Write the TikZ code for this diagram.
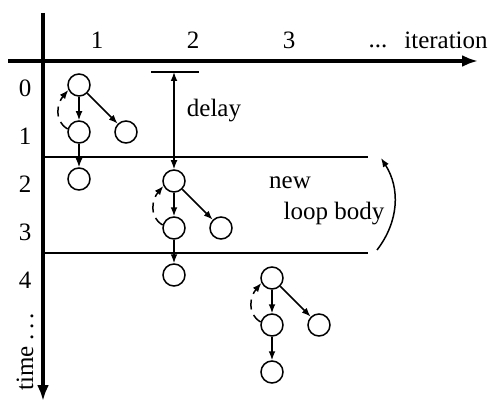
\documentclass[tikz,border=0pt]{standalone}
\usepackage{fontspec}
\setmainfont{Liberation Serif}
\usepackage{tikz}
\usetikzlibrary{arrows.meta}

\begin{document}
\begin{tikzpicture}[x=0.5pt, y=-0.5pt, >={Latex[length=4.5pt,width=3.4pt]}, node distance = 23.5pt,
                    op/.style = {circle, draw, line width=0.75pt, minimum size=11pt, inner sep=0pt},
                    lbl/.style = {font=\fontsize{12.5}{15}\selectfont, inner sep=1pt}]
                        \useasboundingbox (0,0) rectangle (490,405);

                        % axes
                        \coordinate (xs) at (8,61);
                        \coordinate (xe) at (478,61);
                        \coordinate (ys) at (43,13);
                        \coordinate (ye) at (43,401);
                        \draw[-{Latex[length=8pt,width=6pt]}, line width=1.8pt] (xs) -- (xe);
                        \draw[-{Latex[length=8pt,width=6pt]}, line width=1.8pt] (ys) -- (ye);

                        \node (c1) [lbl] at (97,40) {1};
                        \node (c2) [lbl] at (193,40) {2};
                        \node (c3) [lbl] at (289,40) {3};
                        \node (cd) [lbl, anchor=base] at (378,48) {.{}.{}.};
                        \node (it) [lbl] at (446,40) {iteration};

                        \node (r0) [lbl] at (25,88) {0};
                        \node (r1) [lbl] at (25,136) {1};
                        \node (r2) [lbl] at (25,184) {2};
                        \node (r3) [lbl] at (25,232) {3};
                        \node (r4) [lbl] at (25,280) {4};
                        \node (tm) [lbl, rotate=90] at (25,352) {time~.\,.\,.};

                        % loop body borders
                        \coordinate (la) at (43,157);
                        \coordinate (lb) at (368,157);
                        \coordinate (lc) at (43,253);
                        \coordinate (ld) at (368,253);
                        \draw[line width=0.75pt] (la) -- (lb);
                        \draw[line width=0.75pt] (lc) -- (ld);

                        % iteration 1
                        \node (A1) [op] at (79,85) {};
                        \node (B1) [op, below of = A1] {};
                        \node (C1) [op, right of = B1] {};
                        \node (D1) [op, below of = B1] {};
                        % iteration 2
                        \node (A2) [op] at (174,181) {};
                        \node (B2) [op, below of = A2] {};
                        \node (C2) [op, right of = B2] {};
                        \node (D2) [op, below of = B2] {};
                        % iteration 3
                        \node (A3) [op] at (272,278) {};
                        \node (B3) [op, below of = A3] {};
                        \node (C3) [op, right of = B3] {};
                        \node (D3) [op, below of = B3] {};

                        \foreach \i in {1,2,3} {
                            \draw[->, line width=0.75pt] (A\i) -- (B\i);
                            \draw[->, line width=0.75pt] (A\i) -- (C\i);
                            \draw[->, line width=0.75pt] (B\i) -- (D\i);
                            \draw[->, line width=0.75pt, dash pattern=on 5pt off 3pt]
                                (B\i.165) to [out=150, in=230, looseness=1.1] (A\i.205);
                        }

                        % delay
                        \coordinate (dl) at (151,72);
                        \coordinate (dr) at (199,72);
                        \coordinate (dm) at (174,72);
                        \draw[line width=0.75pt] (dl) -- (dr);
                        \draw[<->, line width=0.75pt] (dm) -- (A2);
                        \node (dy) [lbl] at (214,111) {delay};

                        % new loop body
                        \node (nw) [lbl] at (290,183) {new};
                        \node (lp) [lbl] at (334,214) {loop body};
                        \coordinate (bs) at (377,250);
                        \coordinate (be) at (381,158);
                        \draw[->, line width=0.75pt] (bs) to [bend right=35] (be);
                    \end{tikzpicture}
\end{document}
